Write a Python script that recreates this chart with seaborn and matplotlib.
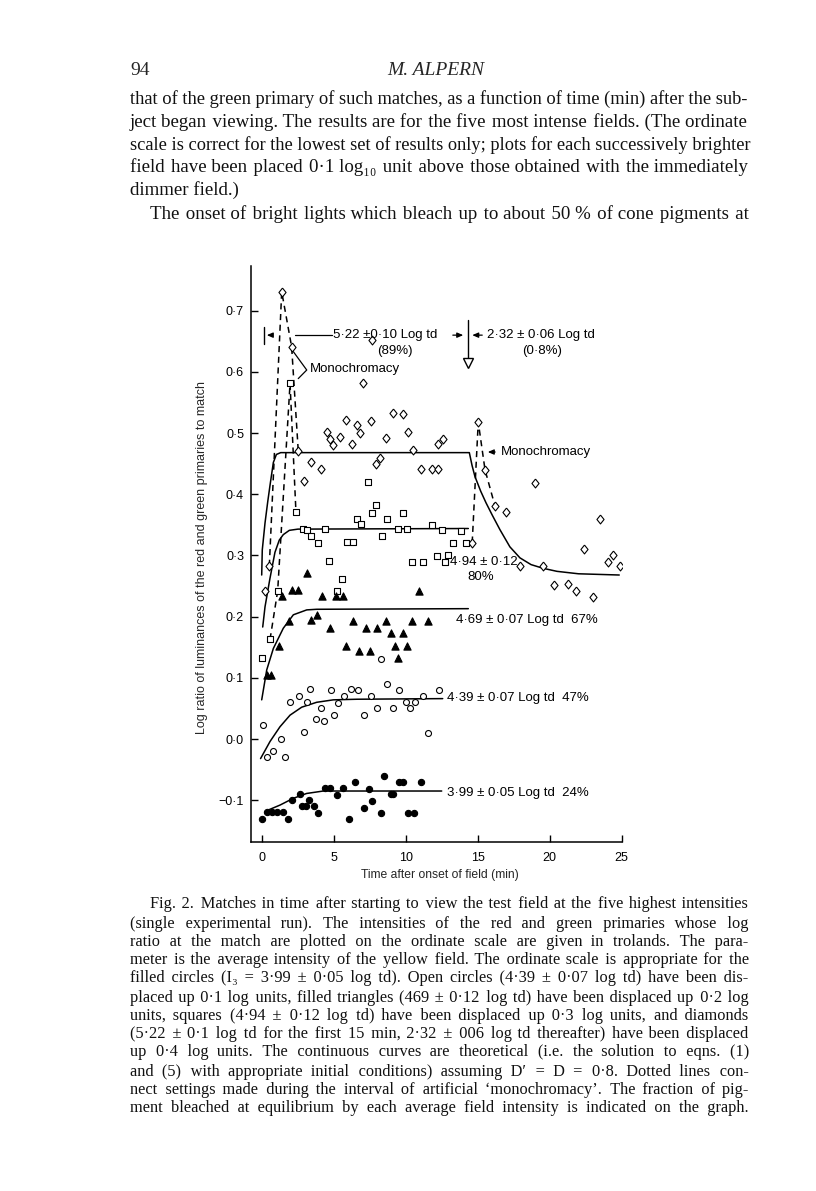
import numpy as np
import pandas as pd
import matplotlib
matplotlib.use("Agg")
import matplotlib.pyplot as plt
import seaborn as sns

sns.set_style("ticks")
plt.rcParams['font.family'] = ['Liberation Sans', 'DejaVu Sans']

# ---------------- data ----------------
dia_t = [0.21, 0.51, 1.37, 2.06, 2.52, 2.94, 3.41, 4.08, 4.54, 4.73, 4.96, 5.42, 5.84, 6.23, 6.58,
         6.81, 7.04, 7.55, 7.62, 7.92, 8.20, 8.59, 9.12, 9.78, 10.13, 10.51, 11.03, 11.83, 12.21,
         12.21, 12.60, 14.61, 15.03, 15.50, 16.19, 16.96, 18.97, 17.93, 19.55, 20.29, 21.29,
         21.82, 22.40, 23.02, 23.49, 24.07, 24.41, 24.88]
dia_v = [0.242, 0.283, 0.731, 0.641, 0.471, 0.422, 0.452, 0.441, 0.502, 0.491, 0.480, 0.494, 0.521,
         0.482, 0.513, 0.500, 0.581, 0.520, 0.652, 0.450, 0.460, 0.492, 0.532, 0.531, 0.502, 0.472,
         0.441, 0.441, 0.441, 0.482, 0.491, 0.321, 0.518, 0.440, 0.381, 0.371, 0.419, 0.282, 0.282,
         0.252, 0.253, 0.242, 0.310, 0.232, 0.359, 0.290, 0.301, 0.282]

sq_t = [0.02, 0.56, 1.09, 1.95, 2.36, 2.83, 3.15, 3.38, 3.91, 4.38, 4.68, 5.19, 5.54, 5.93, 6.34,
        6.58, 6.88, 7.35, 7.62, 7.92, 8.32, 8.71, 9.47, 9.82, 10.06, 10.40, 11.21, 11.79, 12.14,
        12.49, 12.72, 12.95, 13.29, 13.81, 14.16]
sq_v = [0.133, 0.163, 0.242, 0.581, 0.371, 0.343, 0.341, 0.331, 0.321, 0.343, 0.291, 0.242, 0.261,
        0.322, 0.322, 0.360, 0.352, 0.420, 0.370, 0.382, 0.332, 0.360, 0.343, 0.370, 0.343, 0.290,
        0.290, 0.350, 0.299, 0.341, 0.290, 0.301, 0.321, 0.340, 0.320]

tri_t = [0.33, 0.63, 1.18, 1.41, 1.88, 2.11, 2.52, 3.11, 3.41, 3.80, 4.19, 4.73, 5.12, 5.65, 5.84,
         6.34, 6.74, 7.21, 7.51, 7.97, 8.60, 8.96, 9.24, 9.47, 9.82, 10.06, 10.44, 10.91, 11.56]
tri_v = [0.105, 0.105, 0.152, 0.234, 0.193, 0.243, 0.243, 0.272, 0.194, 0.203, 0.234, 0.182, 0.234,
         0.234, 0.152, 0.193, 0.144, 0.182, 0.144, 0.182, 0.193, 0.173, 0.152, 0.133, 0.173, 0.152,
         0.193, 0.242, 0.193]

oc_t = [0.05, 0.37, 0.79, 1.30, 1.60, 1.95, 2.59, 2.92, 3.15, 3.34, 3.75, 4.10, 4.31, 4.77, 5.02,
        5.30, 5.70, 6.18, 6.65, 7.11, 7.55, 7.97, 8.25, 8.67, 9.12, 9.52, 9.99, 10.28, 10.63, 11.17,
        11.51, 12.32]
oc_v = [0.023, -0.030, -0.020, 0.000, -0.029, 0.061, 0.071, 0.011, 0.061, 0.081, 0.032, 0.051, 0.030,
        0.080, 0.040, 0.059, 0.071, 0.081, 0.080, 0.040, 0.070, 0.050, 0.131, 0.090, 0.050, 0.080,
        0.060, 0.051, 0.060, 0.071, 0.010, 0.080]

fc_t = [-0.02, 0.37, 0.72, 1.06, 1.48, 1.79, 2.06, 2.64, 2.76, 3.06, 3.29, 3.61, 3.87, 4.38, 4.73,
        5.19, 5.65, 6.05, 6.46, 7.09, 7.44, 7.67, 8.27, 8.50, 8.96, 9.12, 9.52, 9.82, 10.17, 10.56, 11.03]
fc_v = [-0.131, -0.120, -0.120, -0.120, -0.119, -0.131, -0.100, -0.090, -0.109, -0.109, -0.100, -0.109,
        -0.121, -0.080, -0.080, -0.091, -0.080, -0.131, -0.071, -0.112, -0.082, -0.101, -0.121, -0.060,
        -0.090, -0.090, -0.071, -0.071, -0.121, -0.121, -0.071]

# theoretical curves
cdia_t = [-0.02, 0.02, 0.21, 0.40, 0.56, 0.79, 1.00, 1.30, 14.41, 14.60, 14.80, 15.20, 15.57, 16.00,
          16.54, 17.23, 17.93, 18.70, 19.53, 20.50, 22.00, 24.83]
cdia_v = [0.268, 0.309, 0.353, 0.388, 0.415, 0.452, 0.465, 0.468, 0.468, 0.447, 0.429, 0.405, 0.386,
          0.366, 0.342, 0.314, 0.296, 0.285, 0.279, 0.274, 0.270, 0.268]
csq_t = [0.05, 0.21, 0.55, 0.90, 1.20, 1.48, 1.90, 2.50, 14.34]
csq_v = [0.183, 0.216, 0.262, 0.305, 0.325, 0.334, 0.341, 0.343, 0.344]
ctri_t = [-0.02, 0.33, 0.79, 1.48, 2.18, 3.11, 3.80, 14.34]
ctri_v = [0.064, 0.113, 0.148, 0.181, 0.203, 0.211, 0.212, 0.213]
coc_t = [-0.10, 0.56, 1.25, 1.95, 2.76, 3.80, 4.96, 6.60, 12.56]
coc_v = [-0.032, -0.004, 0.020, 0.039, 0.052, 0.060, 0.064, 0.065, 0.066]
cfc_t = [0.44, 1.25, 2.17, 3.10, 4.26, 6.60, 12.49]
cfc_v = [-0.116, -0.108, -0.097, -0.089, -0.085, -0.085, -0.085]

# dotted 'monochromacy' connections
mono1_t = [0.51, 1.37, 2.06, 2.52]
mono1_v = [0.283, 0.731, 0.641, 0.471]
mono2_t = [0.56, 1.09, 1.95, 2.36]
mono2_v = [0.163, 0.242, 0.581, 0.371]
mono3_t = [14.61, 15.03, 15.50, 16.19]
mono3_v = [0.321, 0.518, 0.440, 0.381]

x_ticks = [0, 5, 10, 15, 20, 25]
y_ticks = [-0.1, 0.0, 0.1, 0.2, 0.3, 0.4, 0.5, 0.6, 0.7]
y_labels = ["\u22120\u00b71", "0\u00b70", "0\u00b71", "0\u00b72", "0\u00b73", "0\u00b74", "0\u00b75", "0\u00b76", "0\u00b77"]

series_labels = ["4\u00b739 \u00b1 0\u00b707 Log td  47%", "3\u00b799 \u00b1 0\u00b705 Log td  24%",
                 "4\u00b769 \u00b1 0\u00b707 Log td  67%"]

# ---------------- figure ----------------
W, H = 816, 1191
fig = plt.figure(figsize=(W / 100, H / 100), dpi=100)
fig.patch.set_facecolor("white")
L, R, T, B = 251, 621.7, 266, 841.5
ax = fig.add_axes([L / W, 1 - B / H, (R - L) / W, (B - T) / H])
ax.set_facecolor("white")

line_kw = dict(color="black", linewidth=1.1, estimator=None, sort=False, ax=ax, legend=False)
for tt, vv in [(cdia_t, cdia_v), (csq_t, csq_v), (ctri_t, ctri_v), (coc_t, coc_v), (cfc_t, cfc_v)]:
    sns.lineplot(x=tt, y=vv, zorder=2, **line_kw)
for tt, vv in [(mono1_t, mono1_v), (mono2_t, mono2_v), (mono3_t, mono3_v)]:
    sns.lineplot(x=tt, y=vv, linestyle=(0, (4, 3)), zorder=2, **line_kw)

diamond = [(0, 1), (0.8, 0), (0, -1), (-0.8, 0), (0, 1)]
sc_kw = dict(ax=ax, edgecolor="black", linewidth=0.8, zorder=3, legend=False)
sns.scatterplot(x=dia_t, y=dia_v, marker=diamond, s=6.4 ** 2, color="white", **sc_kw)
sns.scatterplot(x=sq_t, y=sq_v, marker="s", s=4.6 ** 2, color="white", **sc_kw)
sns.scatterplot(x=tri_t, y=tri_v, marker="^", s=5.2 ** 2, color="black", **sc_kw)
sns.scatterplot(x=oc_t, y=oc_v, marker="o", s=4.3 ** 2, color="white", **sc_kw)
sns.scatterplot(x=fc_t, y=fc_v, marker="o", s=4.5 ** 2, color="black", **sc_kw)

ax.set_xlim(-0.764, 25.0)
ax.set_ylim(-0.1675, 0.773)
ax.set_xticks(x_ticks)
ax.set_xticklabels([str(v) for v in x_ticks])
ax.set_yticks(y_ticks)
ax.set_yticklabels(y_labels)
ax.tick_params(direction="in", length=5, width=1.0, labelsize=9, colors="black")
ax.tick_params(axis="x", pad=7.5)
ax.tick_params(axis="y", pad=5)
for s in ["top", "right"]:
    ax.spines[s].set_visible(False)
for s in ["left", "bottom"]:
    ax.spines[s].set_linewidth(1.1)
    ax.spines[s].set_color("black")

ax.set_xlabel("Time after onset of field (min)", fontsize=8.7)
ax.set_ylabel("Log ratio of luminances of the red and green primaries to match", fontsize=9)
ax.xaxis.set_label_coords(0.51, -0.047)
ax.yaxis.set_label_coords(-0.115, 0.4935)

fs = 9.5
tk = dict(fontsize=fs, color="black", zorder=4)
# series labels
ax.text(12.86, 0.067, series_labels[0], va="center", ha="left", **tk)
ax.text(12.86, -0.088, series_labels[1], va="center", ha="left", **tk)
ax.text(13.48, 0.194, series_labels[2], va="center", ha="left", **tk)
ax.text(13.07, 0.289, "4\u00b794 \u00b1 0\u00b712", va="center", ha="left", **tk)
ax.text(15.2, 0.265, "80%", va="center", ha="center", **tk)

# top annotation
arrow_kw = dict(arrowstyle="-|>,head_length=0.35,head_width=0.15", color="black", lw=0.9)
ax.plot([0.14, 0.14], [0.645, 0.673], color="black", lw=1.0)
ax.annotate("", xy=(0.14, 0.660), xytext=(0.80, 0.660), arrowprops=arrow_kw)
ax.plot([2.29, 4.84], [0.660, 0.660], color="black", lw=0.9)
ax.text(4.95, 0.660, "5\u00b722 \u00b10\u00b710 Log td", va="center", ha="left", **tk)
ax.text(7.97, 0.634, "(89%)", va="center", ha="left", **tk)
ax.annotate("", xy=(14.18, 0.660), xytext=(13.07, 0.660), arrowprops=arrow_kw)
ax.annotate("", xy=(14.42, 0.660), xytext=(15.50, 0.660), arrowprops=arrow_kw)
ax.plot([14.29, 14.29], [0.685, 0.620], color="black", lw=1.0)
ax.plot([14.29], [0.614], marker="v", ms=6.5, mfc="white", mec="black", mew=1.0, ls="none")
ax.text(15.62, 0.660, "2\u00b732 \u00b1 0\u00b706 Log td", va="center", ha="left", **tk)
ax.text(18.07, 0.634, "(0\u00b78%)", va="center", ha="left", **tk)

# monochromacy labels
ax.plot([2.18, 3.11, 2.52], [0.633, 0.603, 0.589], color="black", lw=0.9)
ax.text(3.34, 0.604, "Monochromacy", va="center", ha="left", **tk)
ax.annotate("", xy=(15.50, 0.469), xytext=(16.40, 0.469), arrowprops=arrow_kw)
ax.text(16.62, 0.469, "Monochromacy", va="center", ha="left", **tk)

# ---------------- page text ----------------
renderer = fig.canvas.get_renderer()
SERIF = 'Liberation Serif'
SERIF_FB = ['Liberation Serif', 'DejaVu Serif']
HAIR = "\u200a"


def measure(s, size, fam):
    t = fig.text(0, 0, s, fontsize=size, family=fam)
    w = t.get_window_extent(renderer).width
    t.remove()
    return w


def put_line(text, x0, x1, ybase, size, justify=True):
    fam = SERIF_FB
    words = text.split(" ")
    n = len(words) - 1
    target = x1 - x0
    s = " ".join(words)
    if justify and n > 0:
        nat = measure(s, size, fam)
        extra = target - nat
        hw = measure("a" + HAIR * 4 + "a", size, fam) / 1.0 - measure("aa", size, fam)
        hw = hw / 4.0
        sw = measure("a a", size, fam) - measure("aa", size, fam)
        if extra > 0:
            per = extra / n
            cum = 0.0
            parts = [words[0]]
            for i in range(n):
                need = per * (i + 1) - cum
                if hw > 0.4:
                    k = int(round(need / hw))
                    gap = " " + HAIR * k
                    cum += k * hw
                else:
                    k = int(round(need / sw))
                    gap = " " * (1 + k)
                    cum += k * sw
                parts.append(gap + words[i + 1])
            s = "".join(parts)
        size = size * target / measure(s, size, fam)
    fig.text(x0 / W, 1 - ybase / H, s, fontsize=size, family=fam, va="baseline", ha="left",
             color="#111111")


fig.text(130 / W, 1 - 75 / H, "94", fontsize=14, family=SERIF, va="baseline", ha="left")
fig.text(436 / W, 1 - 75 / H, "M. ALPERN", fontsize=14, family=SERIF, style="italic",
         va="baseline", ha="center")

XR = 748.5
body = [
    ("that of the green primary of such matches, as a function of time (min) after the sub-", 130, 99, True),
    ("ject began viewing. The results are for the five most intense fields. (The ordinate", 130, 122, True),
    ("scale is correct for the lowest set of results only; plots for each successively brighter", 130, 145, True),
    ("field have been placed 0\u00b71 log\u2081\u2080 unit above those obtained with the immediately", 130, 167, True),
    ("dimmer field.)", 130, 190, False),
    ("The onset of bright lights which bleach up to about 50\u00a0% of cone pigments at", 150, 214, True),
]
for txt, x0, yc, j in body:
    put_line(txt, x0, XR, yc + 5, 13.6, justify=j)

caption = [
    ("Fig. 2. Matches in time after starting to view the test field at the five highest intensities", 150),
    ("(single experimental run). The intensities of the red and green primaries whose log", 130),
    ("ratio at the match are plotted on the ordinate scale are given in trolands. The para-", 130),
    ("meter is the average intensity of the yellow field. The ordinate scale is appropriate for the", 130),
    ("filled circles (I\u2083 = 3\u00b799 \u00b1 0\u00b705 log td). Open circles (4\u00b739 \u00b1 0\u00b707 log td) have been dis-", 130),
    ("placed up 0\u00b71 log units, filled triangles (469 \u00b1 0\u00b712 log td) have been displaced up 0\u00b72 log", 130),
    ("units, squares (4\u00b794 \u00b1 0\u00b712 log td) have been displaced up 0\u00b73 log units, and diamonds", 130),
    ("(5\u00b722 \u00b1 0\u00b71 log td for the first 15 min, 2\u00b732 \u00b1 006 log td thereafter) have been displaced", 130),
    ("up 0\u00b74 log units. The continuous curves are theoretical (i.e. the solution to eqns. (1)", 130),
    ("and (5) with appropriate initial conditions) assuming D\u2032 = D = 0\u00b78. Dotted lines con-", 130),
    ("nect settings made during the interval of artificial \u2018monochromacy\u2019. The fraction of pig-", 130),
    ("ment bleached at equilibrium by each average field intensity is indicated on the graph.", 130),
]
cap_y = [904, 923, 941, 960, 978, 997, 1015, 1034, 1052, 1071, 1089, 1108]
for (txt, x0), yc in zip(caption, cap_y):
    put_line(txt, x0, XR, yc + 4.5, 11.8, justify=True)

fig.savefig("out.png", dpi=100, facecolor="white")
